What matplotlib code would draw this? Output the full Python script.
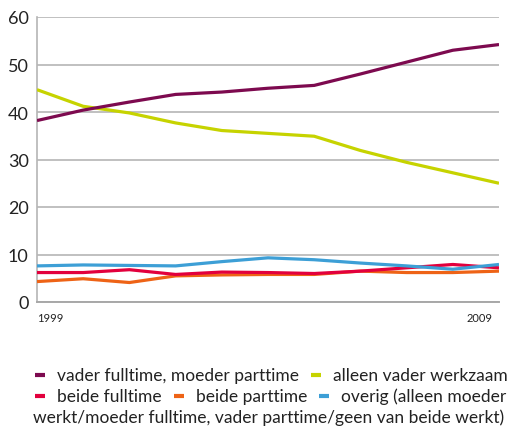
import matplotlib
matplotlib.use("Agg")
import matplotlib.pyplot as plt
from matplotlib.lines import Line2D

years = list(range(1999, 2010))
vader_ft_moeder_pt = [38.2, 40.4, 42.1, 43.7, 44.2, 45.0, 45.6, 48.0, 50.5, 53.0, 54.2]
alleen_vader = [44.7, 41.2, 39.8, 37.7, 36.1, 35.5, 34.9, 31.9, 29.4, 27.2, 25.0]
beide_ft = [6.2, 6.2, 6.8, 5.8, 6.3, 6.2, 6.0, 6.5, 7.2, 7.9, 7.2]
beide_pt = [4.3, 4.9, 4.1, 5.5, 5.7, 5.8, 5.8, 6.5, 6.2, 6.2, 6.5]
overig = [7.6, 7.8, 7.7, 7.6, 8.5, 9.3, 8.9, 8.2, 7.6, 6.9, 7.9]

series = [
    ("vader fulltime, moeder parttime", vader_ft_moeder_pt, "#7d0a4f"),
    ("alleen vader werkzaam", alleen_vader, "#c6d300"),
    ("beide fulltime", beide_ft, "#e2003d"),
    ("beide parttime", beide_pt, "#ee6316"),
    ("overig (alleen moeder", overig, "#3d9fd6"),
]
legend_tail = "werkt/moeder fulltime, vader parttime/geen van beide werkt)"
yticks = [0, 10, 20, 30, 40, 50, 60]
xtick_labels = ["1999", "2009"]

FONT = "Lato"
W, H = 507, 427
fig = plt.figure(figsize=(W / 100, H / 100), dpi=100)
ax = fig.add_axes([37 / W, 1 - 303 / H, (499 - 37) / W, (303 - 18) / H])

for name, vals, col in [series[3], series[2], series[4], series[1], series[0]]:
    ax.plot(years, vals, color=col, lw=2.3, solid_capstyle="butt", zorder=3)

ax.set_xlim(1999, 2009)
ax.set_ylim(0, 60)
ax.set_yticks(yticks)
ax.set_yticklabels([str(t) for t in yticks], fontsize=13, family=FONT, color="#222222")
ax.yaxis.grid(True, color="#b5b5b5", lw=1.2)
ax.set_axisbelow(True)
for s in ["top", "right"]:
    ax.spines[s].set_visible(False)
ax.spines["left"].set_color("#b5b5b5")
ax.spines["left"].set_linewidth(1.2)
ax.spines["bottom"].set_color("#a8a8a8")
ax.spines["bottom"].set_linewidth(1.4)
ax.tick_params(axis="both", length=0, pad=6)
ax.set_xticks([])

ax.text(0, -0.035, xtick_labels[0], transform=ax.transAxes, ha="left", va="top",
        fontsize=8, family=FONT, color="#222222")
ax.text(0.985, -0.035, xtick_labels[1], transform=ax.transAxes, ha="right", va="top",
        fontsize=8, family=FONT, color="#222222")

# manual legend
fig.canvas.draw()
renderer = fig.canvas.get_renderer()
fs = 12.5

def put_row(items, x0, ybase):
    x = x0
    for label, col in items:
        if col is not None:
            fig.add_artist(Line2D([x / W, (x + 10) / W], [1 - ybase / H] * 2,
                                  color=col, lw=3, solid_capstyle="butt"))
            x += 22
        t = fig.text(x / W, 1 - ybase / H, label, fontsize=fs, family=FONT,
                     va="center", ha="left", color="#222222")
        bb = t.get_window_extent(renderer)
        x = x + bb.width + 12

put_row([(series[0][0], series[0][2]), (series[1][0], series[1][2])], 35, 376)
put_row([(series[2][0], series[2][2]), (series[3][0], series[3][2]),
         (series[4][0], series[4][2])], 35, 397)
put_row([(legend_tail, None)], 33, 418)

fig.savefig("out.png", dpi=100)
